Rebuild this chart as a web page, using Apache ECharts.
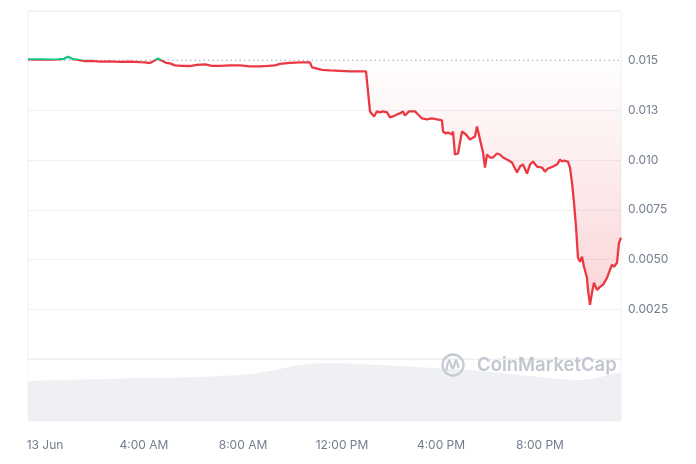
<!DOCTYPE html>
<html>
<head>
<meta charset="utf-8">
<script src="https://cdn.jsdelivr.net/npm/echarts@6/dist/echarts.min.js"></script>
<style>html,body{margin:0;padding:0;background:#fff;}#c{width:696px;height:464px;}</style>
</head>
<body>
<div id="c"></div>
<script>
// hours relative to 13 Jun 00:00
const priceHours = [-0.687,-0.404,-0.121,0.202,0.525,0.768,0.929,1.091,1.333,1.616,1.899,2.222,2.626,3.030,3.434,3.838,4.040,4.242,4.444,4.566,4.727,4.889,5.051,5.253,5.535,5.859,6.141,6.465,6.747,7.071,7.475,7.879,8.283,8.687,9.010,9.293,9.495,9.899,10.303,10.707,10.788,10.949,11.192,11.515,11.919,12.323,12.727,12.970,13.131,13.293,13.414,13.535,13.657,13.818,13.939,14.061,14.222,14.343,14.465,14.545,14.707,14.949,15.071,15.232,15.434,15.636,15.838,16.040,16.081,16.202,16.283,16.444,16.485,16.566,16.687,16.848,17.010,17.172,17.374,17.455,17.576,17.697,17.778,17.859,17.980,18.101,18.263,18.384,18.505,18.667,18.869,18.949,19.071,19.192,19.313,19.475,19.596,19.717,19.879,20.081,20.202,20.323,20.525,20.687,20.808,20.889,20.970,21.131,21.212,21.293,21.374,21.455,21.535,21.616,21.697,21.778,21.899,21.939,22.020,22.101,22.182,22.303,22.424,22.545,22.707,22.828,22.909,22.990,23.111,23.192,23.273];
const priceValues = [0.015071,0.015060,0.015071,0.015055,0.015071,0.015096,0.015197,0.015096,0.015045,0.014985,0.014995,0.014955,0.014970,0.014944,0.014955,0.014930,0.014919,0.014879,0.015020,0.015106,0.014995,0.014894,0.014869,0.014768,0.014743,0.014733,0.014793,0.014818,0.014743,0.014743,0.014768,0.014768,0.014718,0.014718,0.014743,0.014768,0.014844,0.014894,0.014919,0.014919,0.014667,0.014617,0.014541,0.014516,0.014491,0.014466,0.014466,0.014466,0.012450,0.012198,0.012450,0.012399,0.012450,0.012399,0.012147,0.012198,0.012298,0.012349,0.012450,0.012248,0.012450,0.012450,0.012298,0.012097,0.012046,0.012097,0.012046,0.011996,0.011441,0.011341,0.011391,0.011290,0.011441,0.010282,0.010333,0.011441,0.011290,0.011038,0.011189,0.011693,0.011038,0.010383,0.009627,0.010282,0.010131,0.010131,0.010333,0.010282,0.010131,0.010030,0.009879,0.009829,0.009375,0.009677,0.009778,0.009325,0.009778,0.009929,0.009677,0.009627,0.009425,0.009577,0.009677,0.009778,0.010030,0.009929,0.009980,0.009929,0.009627,0.008871,0.007863,0.006653,0.005091,0.004889,0.005141,0.004637,0.004083,0.003478,0.002722,0.003327,0.003831,0.003478,0.003629,0.003730,0.004083,0.004486,0.004738,0.004637,0.004839,0.005847,0.006099];
const openPrice = 0.01502;

const volumeHours = [-0.687,2.222,4.242,6.263,8.283,9.293,10.303,11.515,12.727,14.343,15.677,17.172,18.384,19.596,20.808,21.616,22.424,23.273];
const volumeValues = [64.5,67.7,69.4,71.0,75.8,82.3,90.3,93.5,91.9,88.7,85.5,82.3,77.4,72.6,67.7,66.1,71.0,79.0];

const xTickHours = [0,4,8,12,16,20];
const xTickLabels = ['13 Jun','4:00 AM','8:00 AM','12:00 PM','4:00 PM','8:00 PM'];
const yTickValues = [0.0025,0.005,0.0075,0.01,0.0125,0.015];
const yTickLabels = ['0.0025','0.0050','0.0075','0.010','0.013','0.015'];

const xMin = -0.687, xMax = 23.273;
const priceData = priceHours.map((h,i)=>[h, priceValues[i]]);
const volumeData = volumeHours.map((h,i)=>[h, volumeValues[i]]);
const openLineData = [[xMin, openPrice],[xMax, openPrice]];

const FONT = 'Inter, "Noto Sans", sans-serif';
const LABEL = '#737d8e';
const chart = echarts.init(document.getElementById('c'), null, {renderer:'canvas'});
chart.setOption({
  animation:false,
  backgroundColor:'#fff',
  grid:[
    {left:28,right:75,top:11,bottom:105,show:true,borderColor:'#eff1f4',borderWidth:1},
    {left:28,right:75,top:359,bottom:43,show:true,borderColor:'#f3f4f6',borderWidth:1}
  ],
  xAxis:[
    {type:'value',gridIndex:0,min:xMin,max:xMax,show:false},
    {type:'value',gridIndex:1,min:xMin,max:xMax,
      axisLine:{show:false},axisTick:{show:false},splitLine:{show:false},
      axisLabel:{show:true,customValues:xTickHours,margin:18,color:LABEL,fontSize:12,fontFamily:FONT,
        formatter:function(v){const i=xTickHours.indexOf(Math.round(v));return i>=0?xTickLabels[i]:'';}}}
  ],
  yAxis:[
    {type:'value',gridIndex:0,position:'right',min:0,max:0.0175,interval:0.0025,
      axisLine:{show:false},axisTick:{show:false},
      splitLine:{show:true,lineStyle:{color:['#eceef2','#f0f1f4','#f0f1f4','#f0f1f4','#f0f1f4','#f0f1f4','rgba(0,0,0,0)','#eff1f4'],width:1}},
      axisLabel:{margin:7,color:LABEL,fontSize:12,fontFamily:FONT,
        formatter:function(v){for(let i=0;i<yTickValues.length;i++){if(Math.abs(v-yTickValues[i])<1e-7)return yTickLabels[i];}return '';}}},
    {type:'value',gridIndex:1,min:0,max:100,show:false}
  ],
  visualMap:{show:false,type:'piecewise',seriesIndex:1,dimension:1,
    pieces:[{min:openPrice,max:0.02,color:'#16c784'},{min:0,max:openPrice,color:'#ea3943'}],
    outOfRange:{color:'#ea3943'}},
  series:[
    {type:'line',name:'open',xAxisIndex:0,yAxisIndex:0,data:openLineData,symbol:'none',showSymbol:false,
      lineStyle:{type:[1.5,3],color:'#a3aab8',width:1},silent:true,z:2},
    {type:'line',xAxisIndex:0,yAxisIndex:0,data:priceData,showSymbol:false,symbol:'none',
      lineStyle:{width:2.3},
      areaStyle:{origin:openPrice,color:new echarts.graphic.LinearGradient(0,0,0,1,[
        {offset:0,color:'rgba(234,57,67,0.0)'},{offset:1,color:'rgba(234,57,67,0.30)'}])},
      z:3},
    {type:'line',xAxisIndex:1,yAxisIndex:1,data:volumeData,showSymbol:false,symbol:'none',smooth:0.3,
      lineStyle:{width:0},areaStyle:{color:'#eff0f3',opacity:1},z:1}
  ],
  graphic:[
    {type:'circle',shape:{cx:453,cy:365,r:10.5},style:{fill:'none',stroke:'#c6cad2',lineWidth:2.3},z:10},
    {type:'polyline',shape:{points:[[446.5,370.5],[449,360.5],[452.8,368.5],[456,360.5],[458.5,368]],smooth:0.4},
      style:{fill:'none',stroke:'#c6cad2',lineWidth:2.3},z:10},
    {type:'text',x:477,y:365,style:{text:'CoinMarketCap',fill:'#c2c6ce',font:'600 18.5px '+FONT,textVerticalAlign:'middle',textAlign:'left'},z:10}
  ]
});
</script>
</body>
</html>
